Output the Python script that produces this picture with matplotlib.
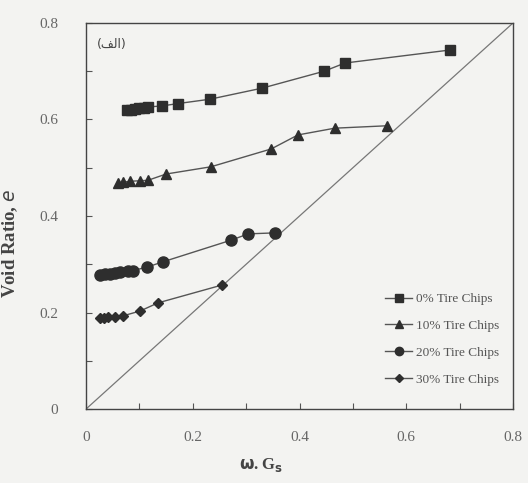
import matplotlib
matplotlib.use("Agg")
import matplotlib.pyplot as plt

# 0% tire chips (squares)
x0 = [0.077, 0.085, 0.092, 0.100, 0.108, 0.116, 0.142, 0.172, 0.232, 0.330, 0.446, 0.485, 0.682]
e0 = [0.619, 0.620, 0.621, 0.623, 0.624, 0.626, 0.628, 0.633, 0.642, 0.665, 0.700, 0.717, 0.744]
# 10% tire chips (triangles)
x10 = [0.060, 0.069, 0.082, 0.101, 0.116, 0.150, 0.234, 0.347, 0.397, 0.466, 0.564]
e10 = [0.468, 0.470, 0.472, 0.473, 0.474, 0.487, 0.502, 0.539, 0.568, 0.582, 0.587]
# 20% tire chips (circles)
x20 = [0.026, 0.036, 0.045, 0.055, 0.064, 0.079, 0.088, 0.114, 0.144, 0.272, 0.304, 0.354]
e20 = [0.278, 0.279, 0.280, 0.282, 0.283, 0.285, 0.287, 0.294, 0.305, 0.350, 0.363, 0.365]
# 30% tire chips (diamonds)
x30 = [0.026, 0.034, 0.041, 0.054, 0.069, 0.101, 0.135, 0.255]
e30 = [0.189, 0.189, 0.190, 0.191, 0.193, 0.203, 0.220, 0.257]
# saturation line e = w.Gs
xs = [0.0, 0.8]
es = [0.0, 0.8]

labels = ["0% Tire Chips", "10% Tire Chips", "20% Tire Chips", "30% Tire Chips"]
xticks = [0, 0.2, 0.4, 0.6, 0.8]
xticklabels = ["0", "0.2", "0.4", "0.6", "0.8"]
yticks = [0, 0.2, 0.4, 0.6, 0.8]
yticklabels = ["0", "0.2", "0.4", "0.6", "0.8"]

bg = "#f3f3f1"
ink = "#2e2e2e"
plt.rcParams['font.family'] = ['Liberation Serif', 'DejaVu Serif']

fig = plt.figure(figsize=(5.28, 4.83), dpi=100, facecolor=bg)
ax = fig.add_axes([0.163, 0.1532, 0.8086, 0.7992], facecolor=bg)

ax.plot(xs, es, color="#777777", lw=0.9)
series = [(x0, e0, 's', 7.5), (x10, e10, '^', 7.5), (x20, e20, 'o', 8), (x30, e30, 'D', 5.5)]
for (xv, ev, m, ms), lab in zip(series, labels):
    ax.plot(xv, ev, marker=m, ms=ms, color="#555555", mfc=ink, mec=ink, lw=1.0, label=lab)

ax.set_xlim(0, 0.8)
ax.set_ylim(0, 0.8)
ax.set_xticks(xticks)
ax.set_xticklabels(xticklabels)
ax.set_yticks(yticks)
ax.set_yticklabels(yticklabels)
ax.set_xticks([0.1, 0.3, 0.5, 0.7], minor=True)
ax.set_yticks([0.1, 0.3, 0.5, 0.7], minor=True)
ax.tick_params(which='both', direction='in', length=4, width=0.8, color="#555555")
ax.tick_params(axis='x', pad=16, labelsize=11, labelcolor="#666666")
ax.tick_params(axis='y', pad=20, labelsize=11, labelcolor="#666666")
for s in ax.spines.values():
    s.set_color("#444444")
    s.set_linewidth(1.0)

ax.set_xlabel(r"$\mathbf{\omega}$. G$_\mathbf{s}$", fontsize=12, fontweight='bold', color="#444444")
ax.xaxis.set_label_coords(0.41, -0.122)
ax.set_ylabel(r"Void Ratio, $\mathit{e}$", fontsize=13.5, fontweight='bold', color="#444444")
ax.yaxis.set_label_coords(-0.155, 0.43)

ax.text(0.02, 0.755, "(\ufed2\ufedf\ufe8d)", fontsize=9, color="#444444",
        family=['DejaVu Sans'], va='center', ha='left')

leg = ax.legend(loc='lower right', bbox_to_anchor=(0.995, 0.03), frameon=False,
                fontsize=9.5, handlelength=2.0, handletextpad=0.3, labelspacing=1.1,
                markerscale=0.75)
for t in leg.get_texts():
    t.set_color("#555555")

fig.savefig("out.png", dpi=100, facecolor=bg)
